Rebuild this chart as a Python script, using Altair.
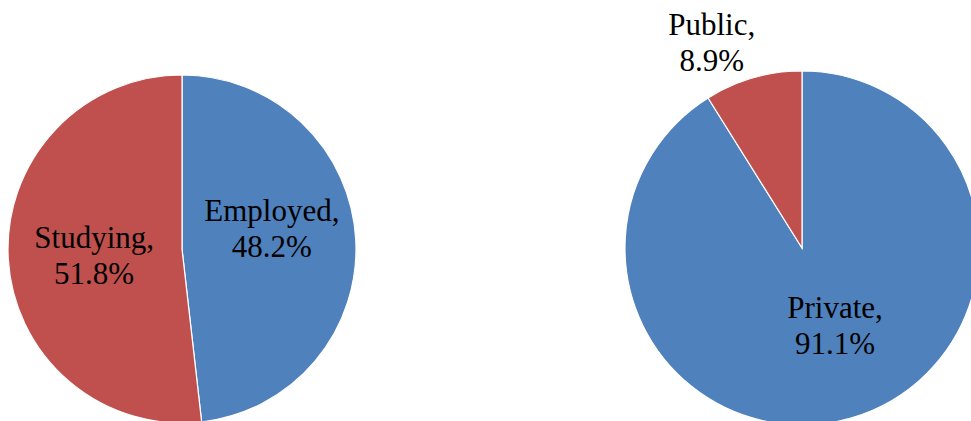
import altair as alt
import pandas as pd

# Data
left_categories = ["Employed", "Studying"]
left_values = [48.2, 51.8]
right_categories = ["Private", "Public"]
right_values = [91.1, 8.9]

BLUE = "#4F81BD"
RED = "#C0504D"

rows = []
for i, (c, v) in enumerate(zip(left_categories, left_values)):
    rows.append({"pie": "left", "category": c, "value": v, "order": i})
for i, (c, v) in enumerate(zip(right_categories, right_values)):
    rows.append({"pie": "right", "category": c, "value": v, "order": i})
df = pd.DataFrame(rows)

color = alt.Color(
    "category:N",
    scale=alt.Scale(domain=["Employed", "Studying", "Private", "Public"],
                    range=[BLUE, RED, BLUE, RED]),
    legend=None,
)
theta_scale = alt.Scale(domain=[0, 100])

centers = {"left": (182, 249, 174), "right": (802, 248, 177)}

base = alt.Chart(df)

layers = []
for pie, (cx, cy, r) in centers.items():
    arc = base.transform_filter(alt.datum.pie == pie).mark_arc(
        radius=r, stroke="white", strokeWidth=1.2
    ).encode(
        theta=alt.Theta("value:Q", stack=True, scale=theta_scale),
        order=alt.Order("order:Q"),
        color=color,
        x=alt.value(cx),
        y=alt.value(cy),
    )
    layers.append(arc)

# label placement: (radius, dx, dy)
label_place = {
    "Employed": (89, 1, -32),
    "Studying": (88, 0, -15),
    "Private": (80, 11, -16),
    "Public": (215, -31, -15),
}

for cat, (rad, dx, dy) in label_place.items():
    pie = "left" if cat in left_categories else "right"
    cx, cy, _ = centers[pie]
    txt = base.transform_window(
        cum="sum(value)", groupby=["pie"], sort=[alt.SortField("order")]
    ).transform_calculate(
        mid="datum.cum - datum.value / 2",
        label="datum.category + ',\\n' + format(datum.value, '.1f') + '%'",
    ).transform_filter(alt.datum.category == cat).mark_text(
        radius=rad, dx=dx, dy=dy, font="Times New Roman, Liberation Serif, serif", fontSize=31,
        lineBreak="\n", lineHeight=36, color="black", align="center", baseline="middle",
    ).encode(
        theta=alt.Theta("mid:Q", stack=None, scale=theta_scale),
        text="label:N",
        x=alt.value(cx),
        y=alt.value(cy),
    )
    layers.append(txt)

chart = alt.layer(*layers).properties(
    width=971, height=421,
    autosize=alt.AutoSizeParams(type="none"),
    padding=0,
    background="white",
).configure_view(stroke=None)

chart.save("out.html", embed_options={"renderer": "svg", "actions": False})
